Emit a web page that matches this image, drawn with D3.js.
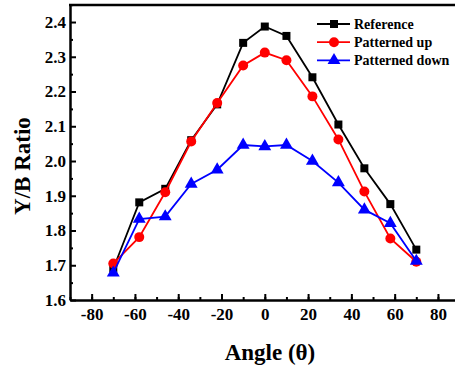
<!DOCTYPE html>
<html>
<head>
<meta charset="utf-8">
<script src="https://cdn.jsdelivr.net/npm/d3@7"></script>
<style>
  body { margin: 0; background: #fff; }
  svg text { font-family: "Liberation Serif", "Times New Roman", serif; font-weight: bold; }
</style>
</head>
<body>
<div id="chart"></div>
<script>
const angles = [-70, -58, -46, -34, -22, -10, 0, 10, 22, 34, 46, 58, 70];
const reference = [1.69, 1.881, 1.92, 2.06, 2.163, 2.34, 2.387, 2.36, 2.241, 2.105, 1.979, 1.876, 1.745];
const patternedUp = [1.705, 1.781, 1.91, 2.056, 2.167, 2.275, 2.312, 2.29, 2.186, 2.062, 1.912, 1.777, 1.71];
const patternedDown = [1.678, 1.833, 1.84, 1.934, 1.975, 2.046, 2.042, 2.046, 2.0, 1.938, 1.86, 1.821, 1.712];
const seriesNames = ['Reference', 'Patterned up', 'Patterned down'];
const xTicks = [-80, -60, -40, -20, 0, 20, 40, 60, 80];
const yTicks = [1.6, 1.7, 1.8, 1.9, 2.0, 2.1, 2.2, 2.3, 2.4];

const width = 455, height = 368;
const margin = { left: 70, top: 5, bottom: 68 };

const svg = d3.select('#chart').append('svg')
    .attr('width', width)
    .attr('height', height);

const x = d3.scaleLinear().domain([-90, 90]).range([margin.left, 459.6]);
const y = d3.scaleLinear().domain([1.6, 2.449]).range([height - margin.bottom, margin.top]);

const bottom = height - margin.bottom;

// minor ticks
svg.append('g')
    .attr('transform', `translate(0,${bottom})`)
    .call(d3.axisBottom(x).tickValues(d3.range(-90, 91, 10)).tickSize(-3).tickFormat(''))
    .call(g => g.select('.domain').remove())
    .selectAll('line').attr('stroke-width', 2);
svg.append('g')
    .attr('transform', `translate(${margin.left},0)`)
    .call(d3.axisLeft(y).tickValues(d3.range(1.65, 2.45, 0.1)).tickSize(-3).tickFormat(''))
    .call(g => g.select('.domain').remove())
    .selectAll('line').attr('stroke-width', 2);

// major axes
const xAxis = svg.append('g')
    .attr('transform', `translate(0,${bottom})`)
    .call(d3.axisBottom(x).tickValues(xTicks).tickSize(-6).tickPadding(8).tickSizeOuter(0)
        .tickFormat(d => d < 0 ? '-' + Math.abs(d) : d));
xAxis.selectAll('text').attr('font-size', 17).attr('fill', '#000');
xAxis.selectAll('line').attr('stroke-width', 2);
xAxis.select('.domain').attr('stroke-width', 2.5);

const yAxis = svg.append('g')
    .attr('transform', `translate(${margin.left},0)`)
    .call(d3.axisLeft(y).tickValues(yTicks).tickSize(-6).tickPadding(4).tickSizeOuter(0)
        .tickFormat(d3.format('.1f')));
yAxis.selectAll('text').attr('font-size', 17).attr('fill', '#000');
yAxis.selectAll('line').attr('stroke-width', 2);
yAxis.select('.domain').attr('stroke-width', 2.5);

// top and right frame
svg.append('line')
    .attr('x1', margin.left - 1).attr('x2', x(90))
    .attr('y1', y.range()[1]).attr('y2', y.range()[1])
    .attr('stroke', '#000').attr('stroke-width', 2.5);
svg.append('line')
    .attr('x1', x(90)).attr('x2', x(90))
    .attr('y1', y.range()[1]).attr('y2', bottom)
    .attr('stroke', '#000').attr('stroke-width', 2.5);

// axis titles
svg.append('text')
    .attr('x', 270).attr('y', 360)
    .attr('text-anchor', 'middle')
    .attr('font-size', 23)
    .text('Angle (θ)');
svg.append('text')
    .attr('transform', `translate(30,166) rotate(-90)`)
    .attr('text-anchor', 'middle')
    .attr('font-size', 23)
    .text('Y/B Ratio');

const series = [
  { name: seriesNames[0], values: reference, color: '#000000', symbol: d3.symbolSquare, size: 64 },
  { name: seriesNames[1], values: patternedUp, color: '#ff0000', symbol: d3.symbolCircle, size: 78 },
  { name: seriesNames[2], values: patternedDown, color: '#0000ff', symbol: d3.symbolTriangle, size: 72 }
];

const line = d3.line().x(d => x(d[0])).y(d => y(d[1]));

series.forEach(s => {
  const pts = angles.map((a, i) => [a, s.values[i]]);
  svg.append('path')
      .datum(pts)
      .attr('d', line)
      .attr('fill', 'none')
      .attr('stroke', s.color)
      .attr('stroke-width', 1.8);
  svg.append('g').selectAll('path')
      .data(pts)
      .enter().append('path')
      .attr('transform', d => `translate(${x(d[0])},${y(d[1])})`)
      .attr('d', d3.symbol().type(s.symbol).size(s.size))
      .attr('fill', s.color);
});

// legend
const legend = svg.append('g');
series.forEach((s, i) => {
  const ly = 24 + i * 18.2;
  legend.append('line')
      .attr('x1', 317).attr('x2', 350)
      .attr('y1', ly).attr('y2', ly)
      .attr('stroke', s.color).attr('stroke-width', 1.8);
  legend.append('path')
      .attr('transform', `translate(334,${ly})`)
      .attr('d', d3.symbol().type(s.symbol).size(s.size))
      .attr('fill', s.color);
  legend.append('text')
      .attr('x', 354).attr('y', ly + 5)
      .attr('font-size', 14)
      .text(s.name);
});
</script>
</body>
</html>
